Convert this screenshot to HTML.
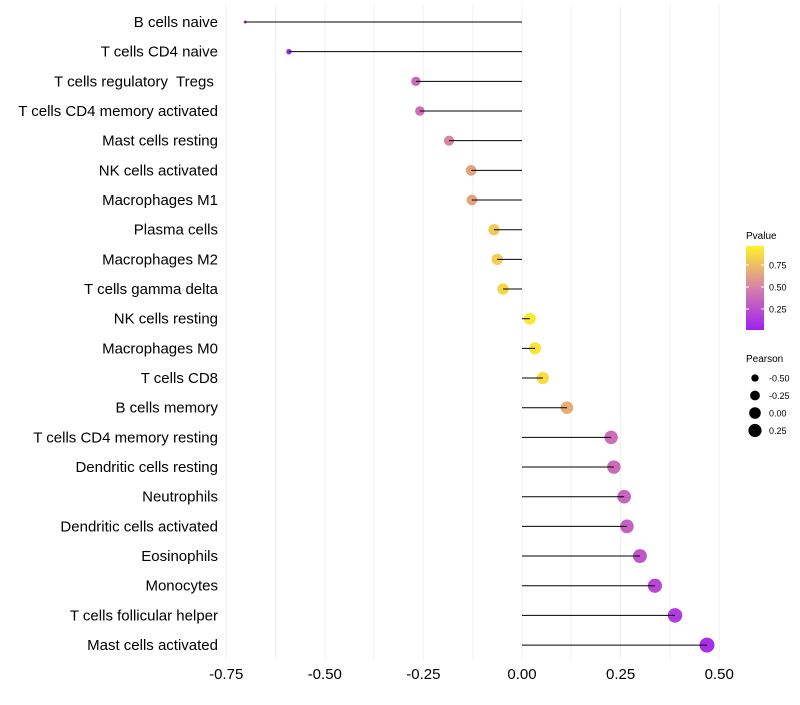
<!DOCTYPE html>
<html><head><meta charset="utf-8"><style>
body{margin:0;background:#fff;font-family:"Liberation Sans",sans-serif}
text{white-space:pre}
</style></head><body>
<svg id="c" width="800" height="700" xmlns="http://www.w3.org/2000/svg"></svg>
<script>
const categories=["B cells naive","T cells CD4 naive","T cells regulatory  Tregs ","T cells CD4 memory activated","Mast cells resting","NK cells activated","Macrophages M1","Plasma cells","Macrophages M2","T cells gamma delta","NK cells resting","Macrophages M0","T cells CD8","B cells memory","T cells CD4 memory resting","Dendritic cells resting","Neutrophils","Dendritic cells activated","Eosinophils","Monocytes","T cells follicular helper","Mast cells activated"];
const pearson=[-0.702,-0.591,-0.269,-0.259,-0.185,-0.129,-0.127,-0.071,-0.063,-0.048,0.020,0.033,0.053,0.114,0.226,0.233,0.259,0.266,0.299,0.337,0.388,0.469];
const pvalue=[0.01,0.02,0.38,0.4,0.52,0.66,0.66,0.82,0.84,0.88,0.96,0.93,0.9,0.7,0.4,0.39,0.36,0.34,0.28,0.2,0.15,0.08];
const xTicks=[-0.75,-0.5,-0.25,0,0.25,0.5];
const xTickLabels=["-0.75","-0.50","-0.25","0.00","0.25","0.50"];
const pTicks=[0.25,0.5,0.75];
const sizeTicks=[-0.5,-0.25,0,0.25];
const svg=document.getElementById('c');
const NS="http://www.w3.org/2000/svg";
function mk(t,a,p){const e=document.createElementNS(NS,t);for(const k in a)e.setAttribute(k,a[k]);(p||svg).appendChild(e);return e;}
const x=v=>522+v*394.4;
const y=i=>22+i*29.67;
const rad=v=>Math.sqrt(Math.max(1.5,34.6+46.2*v));
function lerp(a,b,t){return a.map((c,i)=>Math.round(c+(b[i]-c)*t));}
function col(p){const s=[[160,32,240],[214,128,170],[255,242,40]];let t=Math.max(0,Math.min(1,p));let c=t<0.5?lerp(s[0],s[1],t/0.5):lerp(s[1],s[2],(t-0.5)/0.5);return `rgb(${c})`;}
for(let v=-0.75;v<=0.5001;v+=0.125){const g=mk('line',{x1:x(v),x2:x(v),y1:5,y2:660,stroke:'#f0f0f0','stroke-width':1});
}
xTicks.forEach((v,i)=>{const t=mk('text',{x:x(v),y:679,'text-anchor':'middle','font-size':15,fill:'#000'});t.textContent=xTickLabels[i];
});
categories.forEach((c,i)=>{
const t=mk('text',{x:218,y:y(i)+5,'text-anchor':'end','font-size':15,fill:'#000'});t.textContent=c;

const p=mk('circle',{cx:x(pearson[i]),cy:y(i),r:rad(pearson[i]),fill:col(pvalue[i])});

const l=mk('line',{x1:x(0),x2:x(pearson[i]),y1:y(i),y2:y(i),stroke:'#000','stroke-width':1});

});
const lt=mk('text',{x:746,y:239,'font-size':10});lt.textContent='Pvalue';

const defs=mk('defs',{});const gr=mk('linearGradient',{id:'g',x1:0,y1:1,x2:0,y2:0},defs);
[0,0.25,0.5,0.75,1].forEach(o=>mk('stop',{offset:o,'stop-color':col(o)},gr));
const cb=mk('rect',{x:746,y:246,width:18,height:84,fill:'url(#g)'});

const py=p=>330-(p-0.011)/0.955*84;
pTicks.forEach(p=>{mk('line',{x1:746,x2:749,y1:py(p),y2:py(p),stroke:'#fff'});mk('line',{x1:761,x2:764,y1:py(p),y2:py(p),stroke:'#fff'});
const t=mk('text',{x:769,y:py(p)+3.5,'font-size':9});t.textContent=p.toFixed(2);
});
const st=mk('text',{x:746,y:362,'font-size':10});st.textContent='Pearson';

sizeTicks.forEach((v,i)=>{const yy=378+i*17.5;const c=mk('circle',{cx:755,cy:yy,r:rad(v)*0.85+0.8,fill:'#000'});

const t=mk('text',{x:769,y:yy+3.5,'font-size':9});t.textContent=v.toFixed(2);
});
</script>
</body></html>
